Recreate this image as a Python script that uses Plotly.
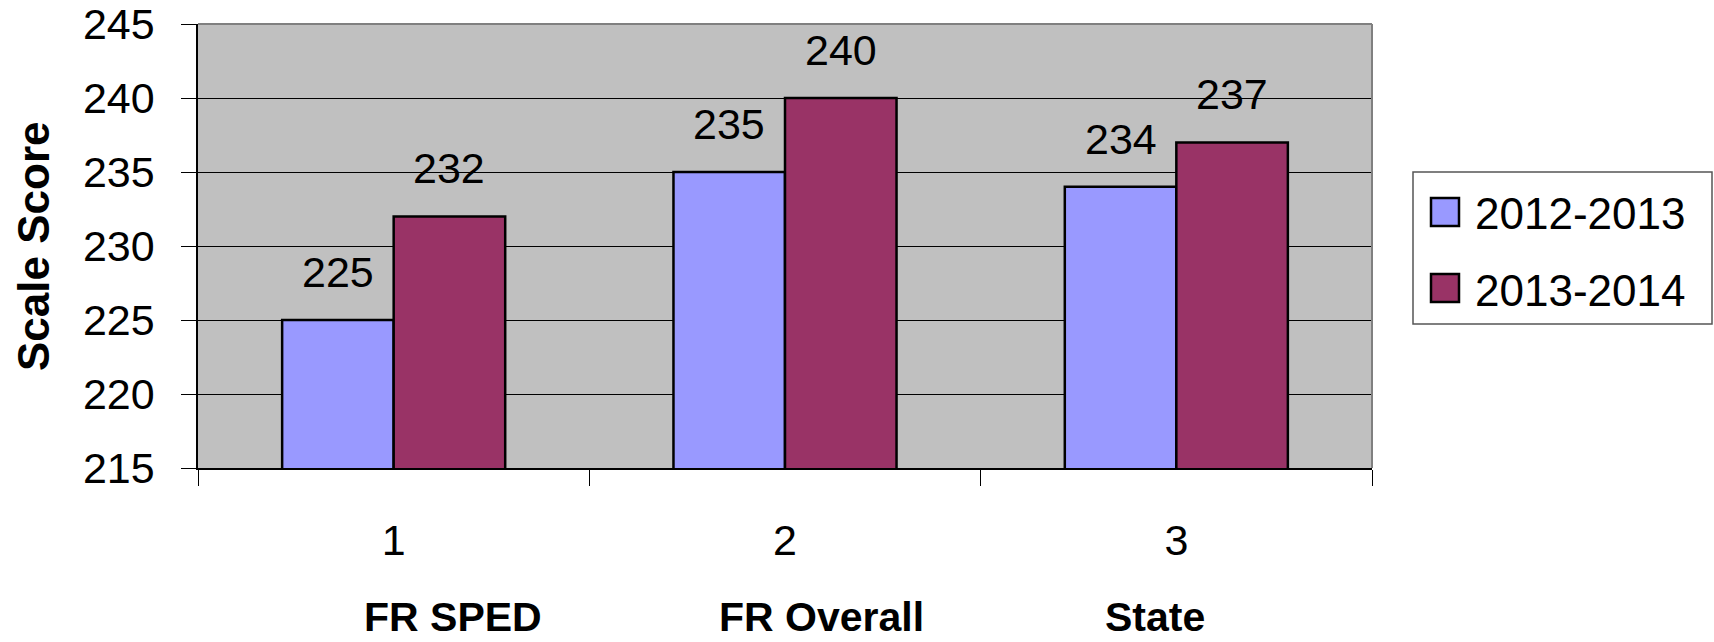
import plotly.graph_objects as go

# Chart data
categories = ["1", "2", "3"]
group_names = ["FR SPED", "FR Overall", "State"]
series_names = ["2012-2013", "2013-2014"]
scores_2012_2013 = [225, 235, 234]
scores_2013_2014 = [232, 240, 237]
y_ticks = [215, 220, 225, 230, 235, 240, 245]

colors = ["#9999FF", "#993366"]
series_values = [scores_2012_2013, scores_2013_2014]

W, H = 1714, 642
M_L, M_R, M_T, M_B = 198, 342, 24, 174
PW, PH = W - M_L - M_R, H - M_T - M_B
FONT = "Liberation Sans, Arial, sans-serif"
BARGAP = 0.43


def px_x(x):
    return (x - M_L) / PW


def px_y(y):
    return (H - M_B - y) / PH


fig = go.Figure()
for name, vals, col in zip(series_names, series_values, colors):
    fig.add_trace(go.Bar(
        x=categories, y=vals, name=name, showlegend=False,
        marker=dict(color=col, line=dict(color="black", width=2.5)),
    ))

# value labels above each bar
bar_w = (1 - BARGAP) / len(series_values)
annotations = []
for j, vals in enumerate(series_values):
    off = -(1 - BARGAP) / 2 + bar_w * (j + 0.5)
    for i, v in enumerate(vals):
        annotations.append(dict(
            x=i + off, y=v, xref="x", yref="y", text=str(v), showarrow=False,
            yanchor="bottom", yshift=22, font=dict(size=43, color="black", family=FONT),
        ))

# group names under the category numbers
for xp, gname in zip([453, 821, 1155], group_names):
    annotations.append(dict(
        x=px_x(xp), y=px_y(641), xref="paper", yref="paper", text=gname,
        showarrow=False, xanchor="center", yanchor="bottom", borderpad=0,
        font=dict(size=41, color="black", family=FONT, weight="bold"),
    ))

# y-axis title
annotations.append(dict(
    x=px_x(33), y=0.5, xref="paper", yref="paper", text="Scale Score",
    textangle=-90, showarrow=False, xanchor="center", yanchor="middle",
    font=dict(size=44, color="black", family=FONT, weight="bold"),
))

# plot-area border (top/right) and legend box
shapes = [
    dict(type="line", xref="paper", yref="paper", x0=0, x1=1, y0=1, y1=1,
         line=dict(color="#808080", width=2)),
    dict(type="line", xref="paper", yref="paper", x0=1, x1=1, y0=0, y1=1,
         line=dict(color="#808080", width=2)),
    dict(type="rect", xref="paper", yref="paper",
         x0=px_x(1413), x1=px_x(1712), y0=px_y(324), y1=px_y(172),
         line=dict(color="#555555", width=1.5), fillcolor="white"),
]
for k, (name, col) in enumerate(zip(series_names, colors)):
    cy = 212 + k * 76
    shapes.append(dict(
        type="rect", xref="paper", yref="paper",
        x0=px_x(1431), x1=px_x(1459), y0=px_y(cy + 14), y1=px_y(cy - 14),
        line=dict(color="black", width=2.5), fillcolor=col,
    ))
    annotations.append(dict(
        x=px_x(1473), y=px_y(cy + 2), xref="paper", yref="paper", text=name,
        showarrow=False, xanchor="left", yanchor="middle",
        font=dict(size=44, color="black", family=FONT),
    ))

fig.update_layout(
    width=W, height=H,
    margin=dict(l=M_L, r=M_R, t=M_T, b=M_B, autoexpand=False),
    paper_bgcolor="white", plot_bgcolor="#C0C0C0",
    barmode="group", bargap=BARGAP, bargroupgap=0,
    font=dict(family=FONT, color="black"),
    showlegend=False,
    annotations=annotations, shapes=shapes,
)
fig.update_yaxes(
    range=[215, 245], tickvals=y_ticks, ticktext=[str(t) for t in y_ticks],
    showgrid=True, gridcolor="black", gridwidth=1,
    ticks="outside", ticklen=15, tickcolor="black", tickwidth=1,
    showline=True, linecolor="black", linewidth=1.5, automargin=False,
    tickfont=dict(size=43, family=FONT), ticklabelstandoff=18, zeroline=False,
)
fig.update_xaxes(
    type="category", tickson="boundaries",
    ticks="outside", ticklen=16, tickcolor="black", tickwidth=1,
    showline=True, linecolor="black", linewidth=1.5, showgrid=False, automargin=False,
    tickfont=dict(size=43, family=FONT), ticklabelstandoff=34,
)

fig.write_html("out.html")
